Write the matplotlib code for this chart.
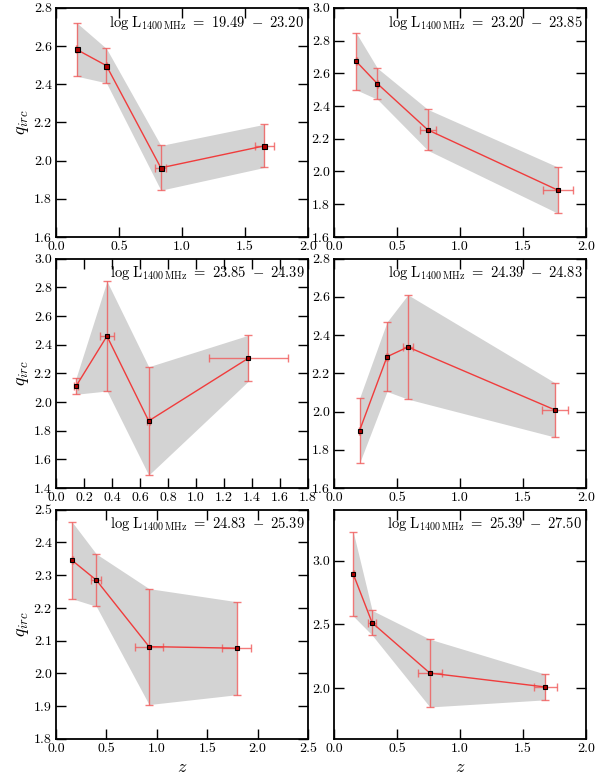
import numpy as np
import matplotlib
matplotlib.use("Agg")
import matplotlib.pyplot as plt
from matplotlib.ticker import MultipleLocator

plt.rcParams["font.family"] = "serif"
plt.rcParams["font.serif"] = ["cmr10", "DejaVu Serif"]
plt.rcParams["mathtext.fontset"] = "cm"
plt.rcParams["axes.formatter.use_mathtext"] = True

# luminosity bins
lum_bins = [("19.49", "23.20"), ("23.20", "23.85"), ("23.85", "24.39"),
            ("24.39", "24.83"), ("24.83", "25.39"), ("25.39", "27.50")]

# redshift, q_irc and errors per bin
z_vals = [
    [0.163, 0.400, 0.832, 1.653],
    [0.176, 0.345, 0.745, 1.776],
    [0.143, 0.364, 0.662, 1.374],
    [0.203, 0.421, 0.587, 1.755],
    [0.161, 0.400, 0.923, 1.793],
    [0.153, 0.303, 0.761, 1.676],
]
z_err = [
    [0.005, 0.005, 0.043, 0.076],
    [0.005, 0.005, 0.063, 0.117],
    [0.015, 0.049, 0.010, 0.283],
    [0.005, 0.010, 0.040, 0.103],
    [0.005, 0.048, 0.138, 0.142],
    [0.005, 0.034, 0.097, 0.092],
]
q_vals = [
    [2.582, 2.497, 1.962, 2.077],
    [2.673, 2.536, 2.254, 1.886],
    [2.110, 2.460, 1.868, 2.306],
    [1.900, 2.287, 2.338, 2.008],
    [2.345, 2.285, 2.082, 2.077],
    [2.895, 2.512, 2.117, 2.008],
]
q_err = [
    [0.140, 0.090, 0.117, 0.113],
    [0.174, 0.095, 0.125, 0.141],
    [0.056, 0.383, 0.378, 0.160],
    [0.170, 0.182, 0.273, 0.142],
    [0.117, 0.080, 0.177, 0.142],
    [0.330, 0.097, 0.266, 0.101],
]

# axis limits and tick steps
xlims = [(0, 2), (0, 2), (0, 1.8), (0, 2), (0, 2.5), (0, 2)]
xsteps = [0.5, 0.5, 0.2, 0.5, 0.5, 0.5]
ylims = [(1.6, 2.8), (1.6, 3.0), (1.4, 3.0), (1.6, 2.8), (1.8, 2.5), (1.6, 3.4)]
ysteps = [0.2, 0.2, 0.2, 0.2, 0.1, 0.5]
marker_sizes = [3.6, 3.2, 2.8, 3.0, 3.2, 3.4]

fig = plt.figure(figsize=(6.15, 7.77), dpi=100)
lefts = [0.091, 0.543]
width = 0.41
bottoms = [0.695, 0.372, 0.049]
height = 0.295

for i in range(6):
    row, col = divmod(i, 2)
    ax = fig.add_axes([lefts[col], bottoms[row], width, height])
    x = np.array(z_vals[i])
    y = np.array(q_vals[i])
    ye = np.array(q_err[i])
    ax.fill_between(x, y - ye, y + ye, color="lightgray", lw=0, zorder=1)
    ax.errorbar(x, y, yerr=ye, xerr=z_err[i], fmt="none", ecolor="#f05a5a",
                elinewidth=1.0, capsize=3, capthick=1.0, alpha=0.8, zorder=2)
    ax.plot(x, y, "-", color="#f03c3c", lw=1.0, zorder=3)
    ax.plot(x, y, "s", ms=marker_sizes[i], mfc="#b00000", mec="black",
            mew=0.8, zorder=4)

    lo, hi = lum_bins[i]
    label = (r"$\log\,\mathrm{L}_{1400\,\mathrm{MHz}}\ =\ " + lo + r"\ -\ "
             + hi + "$")
    ax.text(0.985, 0.975, label, transform=ax.transAxes, ha="right", va="top",
            fontsize=10.5)

    ax.set_xlim(*xlims[i])
    ax.set_ylim(*ylims[i])
    ax.xaxis.set_major_locator(MultipleLocator(xsteps[i]))
    ax.yaxis.set_major_locator(MultipleLocator(ysteps[i]))
    ax.xaxis.set_major_formatter(plt.FormatStrFormatter("%.1f"))
    ax.yaxis.set_major_formatter(plt.FormatStrFormatter("%.1f"))
    ax.tick_params(direction="in", length=7, width=1.0, top=True, right=True,
                   labelsize=10, pad=3)
    for s in ax.spines.values():
        s.set_linewidth(1.3)
    if col == 0:
        ax.set_ylabel(r"$q_{irc}$", fontsize=13, labelpad=2)
    if row == 2:
        ax.set_xlabel(r"$z$", fontsize=13, labelpad=3)

fig.savefig("out.png", dpi=100)
